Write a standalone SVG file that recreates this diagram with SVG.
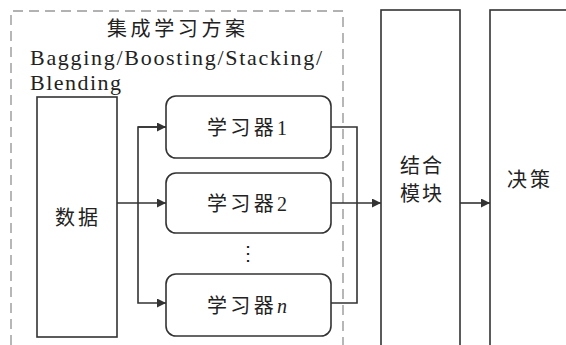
<svg xmlns="http://www.w3.org/2000/svg" width="566" height="345" viewBox="0 0 566 345">
<style>
.box{fill:#fff;stroke:#333;stroke-width:1.6}
.dash{fill:none;stroke:#999;stroke-width:1.4;stroke-dasharray:10 6}
.conn{fill:none;stroke:#333;stroke-width:1.6}
.t{font-family:"Liberation Serif","Noto Sans CJK SC",serif;font-size:20px;fill:#222}
.lat{font-family:"Liberation Serif",serif;font-size:22px;fill:#222}
.cn{font-family:"Noto Sans CJK SC",sans-serif;font-size:20px;fill:#222}
</style>
<defs>
<marker id="arr" viewBox="0 0 10 10" refX="10" refY="5" markerWidth="9" markerHeight="9" markerUnits="userSpaceOnUse" orient="auto">
<path d="M0,0 L10,5 L0,10 z" fill="#333"/>
</marker>
</defs>
<rect width="566" height="345" fill="#fff"/>
<g id="ensemble">
<path class="dash" d="M11,345 V11 H343 V345"/>
<text class="t" x="107" y="36" font-size="21" textLength="138" lengthAdjust="spacing">集成学习方案</text>
<text class="lat" x="30" y="65" textLength="292" lengthAdjust="spacing">Bagging/Boosting/Stacking/</text>
<text class="lat" x="30" y="90" textLength="91" lengthAdjust="spacing">Blending</text>
</g>
<g id="data">
<rect class="box" x="37" y="97" width="80" height="240"/>
<text class="cn" x="55" y="225" textLength="43" lengthAdjust="spacing">数据</text>
</g>
<g id="learner1">
<rect class="box" x="166" y="96" width="165" height="62" rx="10"/>
<text class="t" x="207" y="135" textLength="80" lengthAdjust="spacing">学习器1</text>
</g>
<g id="learner2">
<rect class="box" x="166" y="173" width="165" height="60" rx="10"/>
<text class="t" x="207" y="211" textLength="80" lengthAdjust="spacing">学习器2</text>
</g>
<g id="dots">
<text class="t" x="248" y="260" text-anchor="middle">⋮</text>
</g>
<g id="learnern">
<rect class="box" x="166" y="274" width="165" height="62" rx="10"/>
<text class="t" x="207" y="313" textLength="80" lengthAdjust="spacing">学习器<tspan font-style="italic">n</tspan></text>
</g>
<g id="combine">
<rect class="box" x="381" y="10" width="79" height="345"/>
<text class="cn" x="400" y="173" font-size="18" textLength="42" lengthAdjust="spacing">结合</text>
<text class="cn" x="400" y="201" font-size="18" textLength="42" lengthAdjust="spacing">模块</text>
</g>
<g id="decision">
<rect class="box" x="490" y="10" width="90" height="345"/>
<text class="cn" x="507" y="187" textLength="43" lengthAdjust="spacing">决策</text>
</g>
<g id="connectors">
<path class="conn" d="M117,203 H166" marker-end="url(#arr)"/>
<path class="conn" d="M166,127 H138 V303 H166" marker-end="url(#arr)"/>
<path class="conn" d="M138,127 H166" marker-end="url(#arr)"/>
<path class="conn" d="M331,127 H357 V303 H331"/>
<path class="conn" d="M331,203 H381" marker-end="url(#arr)"/>
<path class="conn" d="M460,203 H490" marker-end="url(#arr)"/>
</g>
</svg>
